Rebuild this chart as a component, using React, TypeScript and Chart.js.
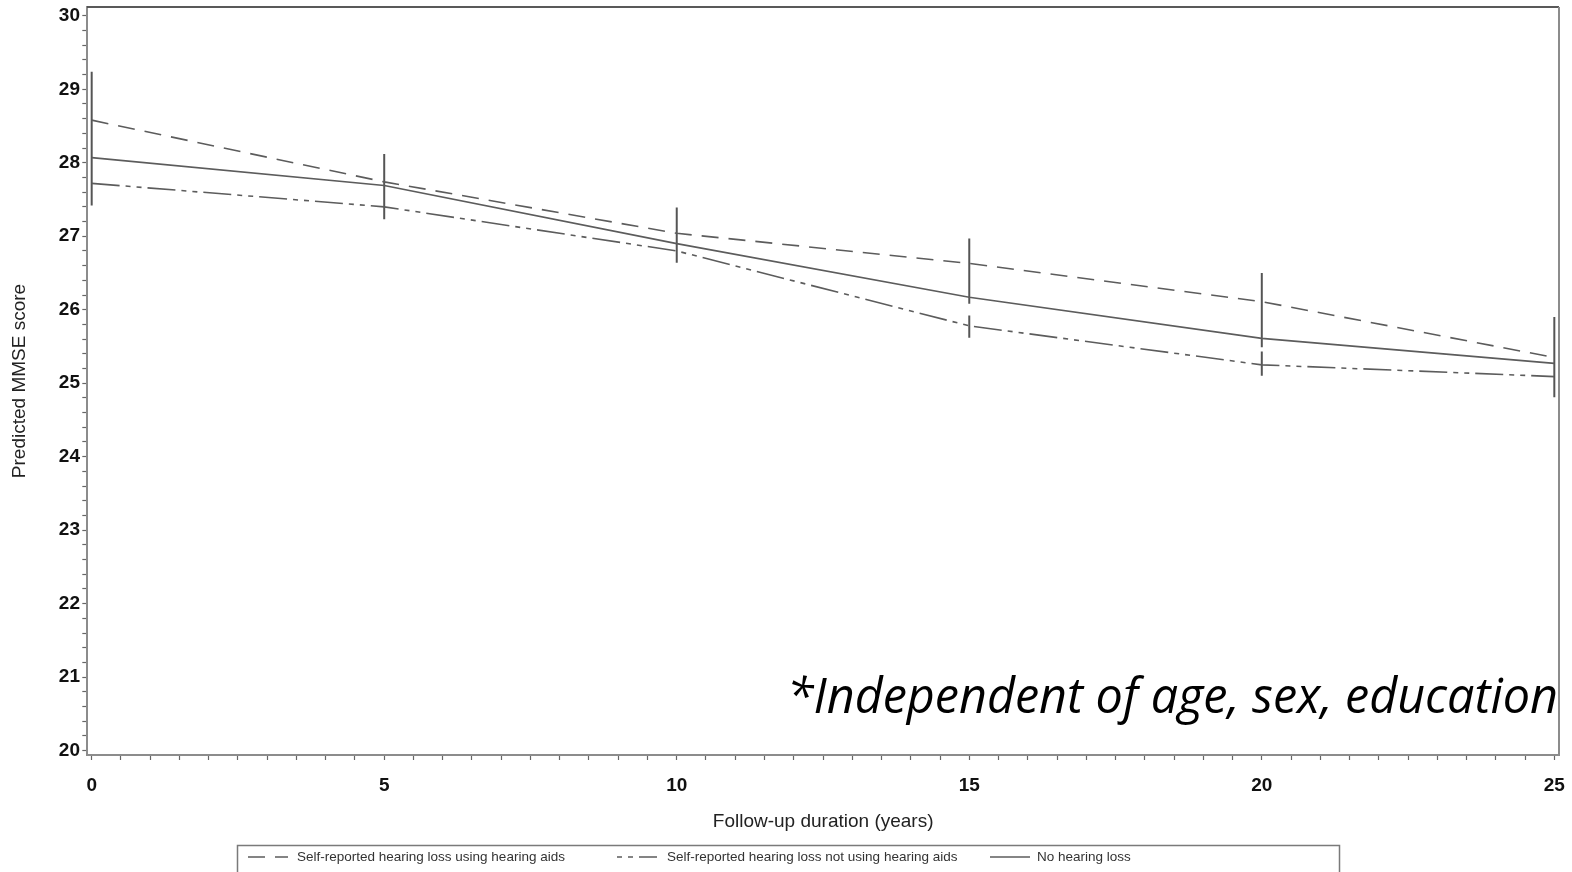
import React, { useEffect, useRef } from 'react';
import { Chart, registerables } from 'chart.js';

Chart.register(...registerables);

// ---------------- data ----------------
const years = [0, 5, 10, 15, 20, 25];
const seriesLabels = [
  'Self-reported hearing loss using hearing aids',
  'Self-reported hearing loss not using hearing aids',
  'No hearing loss',
];
const usingAidsValues = [28.58, 27.74, 27.04, 26.63, 26.11, 25.35];
const notUsingAidsValues = [27.72, 27.4, 26.8, 25.78, 25.25, 25.09];
const noLossValues = [28.07, 27.69, 26.9, 26.17, 25.61, 25.27];

const errorBarYears = [0, 5, 10, 15, 15, 20, 20, 25];
const errorBarLow = [27.42, 27.23, 26.64, 26.08, 25.62, 25.49, 25.1, 24.81];
const errorBarHigh = [29.24, 28.12, 27.39, 26.97, 25.92, 26.5, 25.43, 25.9];

const xTickLabels = [0, 5, 10, 15, 20, 25];
const yTickLabels = [20, 21, 22, 23, 24, 25, 26, 27, 28, 29, 30];
const xMinorStep = 0.5;
const yMinorStep = 0.2;
const xTitle = 'Follow-up duration (years)';
const yTitle = 'Predicted MMSE score';
const noteText = '*Independent of age, sex, education';

// ---------------- helpers ----------------
function stepTicks(from: number, to: number, step: number) {
  const out: { value: number }[] = [];
  const n = Math.round((to - from) / step);
  for (let i = 0; i <= n; i++) out.push({ value: Math.round((from + i * step) * 1000) / 1000 });
  return out;
}
const isIn = (list: number[], v: number) => list.some((t) => Math.abs(t - v) < 1e-6);

const SANS = '"Liberation Sans", Arial, sans-serif';

const decorPlugin = {
  id: 'decor',
  afterDraw(chart: any) {
    const { ctx, chartArea } = chart;
    ctx.save();
    // note text
    ctx.fillStyle = '#000';
    ctx.font = 'italic 48.5px "Open Sans", sans-serif';
    ctx.textAlign = 'right';
    ctx.textBaseline = 'alphabetic';
    ctx.fillText(noteText, chartArea.right - 1, 713);

    // frame: top + right
    ctx.strokeStyle = '#222';
    ctx.lineWidth = 1.5;
    ctx.beginPath();
    ctx.moveTo(chartArea.left, chartArea.top);
    ctx.lineTo(chartArea.right, chartArea.top);
    ctx.stroke();
    ctx.strokeStyle = '#8c8c8c';
    ctx.lineWidth = 2;
    ctx.beginPath();
    ctx.moveTo(chartArea.right, chartArea.top);
    ctx.lineTo(chartArea.right, chartArea.bottom);
    ctx.stroke();

    // legend box
    ctx.strokeStyle = '#7a7a7a';
    ctx.lineWidth = 1.5;
    ctx.strokeRect(237.5, 845.5, 1102, 60);
    const sampleX = [248, 617, 990];
    const textX = [297, 667, 1037];
    const dashOffsets = [0, 34, 0];
    const ly = 857;
    chart.data.datasets.slice(0, 3).forEach((ds: any, i: number) => {
      ctx.strokeStyle = ds.borderColor;
      ctx.lineWidth = ds.borderWidth;
      ctx.setLineDash(ds.borderDash || []);
      ctx.lineDashOffset = dashOffsets[i];
      ctx.beginPath();
      ctx.moveTo(sampleX[i], ly);
      ctx.lineTo(sampleX[i] + 40, ly);
      ctx.stroke();
      ctx.setLineDash([]);
      ctx.lineDashOffset = 0;
      ctx.fillStyle = '#333';
      ctx.font = '13.5px ' + SANS;
      ctx.textAlign = 'left';
      ctx.textBaseline = 'middle';
      ctx.fillText(ds.label, textX[i], ly);
    });
    ctx.restore();
  },
};

export default function App() {
  const ref = useRef<HTMLCanvasElement>(null);
  useEffect(() => {
    const lineColor = '#5c5c5c';
    const errorData: any[] = [];
    errorBarYears.forEach((t, i) => {
      errorData.push({ x: t, y: errorBarLow[i] });
      errorData.push({ x: t, y: errorBarHigh[i] });
      errorData.push({ x: t, y: null });
    });
    const chart = new Chart(ref.current as HTMLCanvasElement, {
      type: 'line',
      data: {
        datasets: [
          {
            label: seriesLabels[0],
            data: years.map((x, i) => ({ x, y: usingAidsValues[i] })),
            borderColor: lineColor,
            borderWidth: 1.6,
            borderDash: [17, 10],
            pointRadius: 0,
            tension: 0,
            fill: false,
          },
          {
            label: seriesLabels[1],
            data: years.map((x, i) => ({ x, y: notUsingAidsValues[i] })),
            borderColor: lineColor,
            borderWidth: 1.6,
            borderDash: [28, 6, 5, 6, 5, 6],
            pointRadius: 0,
            tension: 0,
            fill: false,
          },
          {
            label: seriesLabels[2],
            data: years.map((x, i) => ({ x, y: noLossValues[i] })),
            borderColor: lineColor,
            borderWidth: 1.6,
            pointRadius: 0,
            tension: 0,
            fill: false,
          },
          {
            label: 'CI',
            data: errorData,
            borderColor: '#555',
            borderWidth: 2,
            pointRadius: 0,
            spanGaps: false,
            fill: false,
          },
        ],
      },
      options: {
        animation: false,
        responsive: false,
        layout: { padding: { left: 0, top: 7, right: 13, bottom: 0 } },
        plugins: { legend: { display: false }, tooltip: { enabled: false } },
        scales: {
          x: {
            type: 'linear',
            bounds: 'data',
            min: -0.075,
            max: 25.08,
            afterBuildTicks: (s: any) => {
              s.ticks = stepTicks(0, 25, xMinorStep);
            },
            afterFit: (s: any) => {
              s.height = 117;
              s.paddingLeft = 0;
              s.paddingRight = 0;
            },
            ticks: {
              autoSkip: false,
              maxRotation: 0,
              padding: 14,
              color: '#111',
              font: { family: SANS, size: 19, weight: 'bold' },
              callback: (v: any) => (isIn(xTickLabels, Number(v)) ? String(Math.round(Number(v))) : ''),
            },
            grid: {
              display: true,
              drawOnChartArea: false,
              drawTicks: true,
              tickLength: 5,
              tickColor: '#666',
              tickWidth: 1.2,
            },
            border: { color: '#8c8c8c', width: 2 },
            title: {
              display: true,
              text: xTitle,
              color: '#222',
              font: { family: SANS, size: 19 },
              padding: { top: 0, bottom: 38.6 },
            },
          },
          y: {
            type: 'linear',
            bounds: 'data',
            min: 19.94,
            max: 30.12,
            afterBuildTicks: (s: any) => {
              s.ticks = stepTicks(20, 30, yMinorStep);
            },
            afterFit: (s: any) => {
              s.width = 87.3;
              s.paddingTop = 0;
              s.paddingBottom = 0;
            },
            ticks: {
              autoSkip: false,
              padding: 2.3,
              color: '#111',
              font: { family: SANS, size: 19, weight: 'bold' },
              callback: (v: any) => (isIn(yTickLabels, Number(v)) ? String(Math.round(Number(v))) : ''),
            },
            grid: {
              display: true,
              drawOnChartArea: false,
              drawTicks: true,
              tickLength: 5,
              tickColor: '#666',
              tickWidth: 1.2,
            },
            border: { color: '#8c8c8c', width: 2 },
            title: {
              display: true,
              text: yTitle,
              color: '#222',
              font: { family: SANS, size: 19 },
              padding: { top: 8.6, bottom: 0 },
            },
          },
        },
      },
      plugins: [decorPlugin],
    } as any);
    return () => chart.destroy();
  }, []);

  return (
    <div style={{ position: 'fixed', left: 0, top: 0, width: 1572, height: 872, background: '#fff' }}>
      <canvas ref={ref} width={1572} height={872} style={{ display: 'block' }} />
    </div>
  );
}
